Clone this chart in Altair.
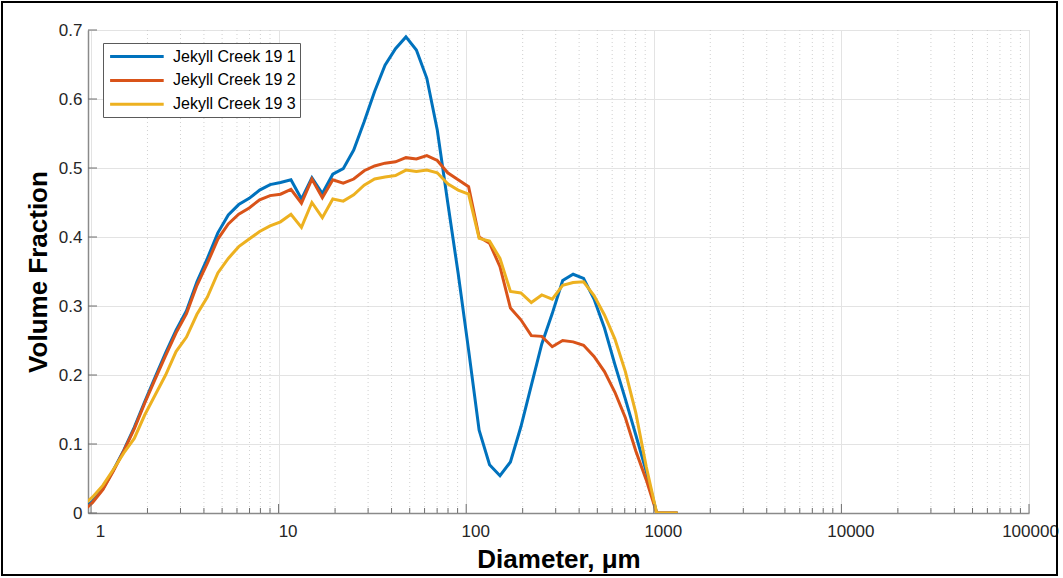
import altair as alt
import pandas as pd

# ---------------- data ----------------
diameter = [0.896, 1.018, 1.157, 1.316, 1.496, 1.701, 1.933, 2.198, 2.499, 2.841, 3.229,
            3.671, 4.173, 4.745, 5.394, 6.132, 6.971, 7.925, 9.010, 10.24, 11.64,
            13.24, 15.05, 17.11, 19.45, 22.11, 25.14, 28.58, 32.49, 36.93, 41.99,
            47.73, 54.26, 61.69, 70.13, 79.72, 90.63, 103.0, 117.2, 133.2, 151.4,
            172.1, 195.7, 222.4, 252.9, 287.5, 326.8, 371.5, 422.4, 480.2, 545.9,
            620.6, 705.5, 802.0, 911.7, 1036, 1178, 1340]

series_names = ["Jekyll Creek 19 1", "Jekyll Creek 19 2", "Jekyll Creek 19 3"]
series_colors = ["#0072BD", "#D95319", "#EDB120"]

vf_1 = [0.003, 0.017, 0.035, 0.062, 0.091, 0.124, 0.161, 0.197, 0.232, 0.265, 0.293,
        0.335, 0.369, 0.406, 0.432, 0.447, 0.456, 0.468, 0.476, 0.479, 0.483,
        0.455, 0.486, 0.463, 0.491, 0.499, 0.526, 0.567, 0.611, 0.649, 0.673,
        0.690, 0.671, 0.630, 0.555, 0.450, 0.347, 0.236, 0.120, 0.070, 0.054,
        0.074, 0.125, 0.185, 0.245, 0.289, 0.337, 0.346, 0.340, 0.310, 0.268,
        0.215, 0.165, 0.113, 0.060, 0.0, 0.0, 0.0]
vf_2 = [0.001, 0.015, 0.034, 0.061, 0.090, 0.122, 0.159, 0.194, 0.228, 0.261, 0.289,
        0.330, 0.362, 0.397, 0.419, 0.433, 0.442, 0.454, 0.460, 0.462, 0.469,
        0.449, 0.484, 0.457, 0.483, 0.478, 0.484, 0.496, 0.503, 0.507, 0.509,
        0.515, 0.513, 0.518, 0.511, 0.493, 0.483, 0.473, 0.400, 0.391, 0.357,
        0.297, 0.280, 0.257, 0.256, 0.241, 0.250, 0.248, 0.243, 0.227, 0.205,
        0.175, 0.138, 0.090, 0.048, 0.0, 0.0, 0.0]
vf_3 = [0.010, 0.023, 0.040, 0.063, 0.087, 0.108, 0.142, 0.171, 0.200, 0.234, 0.255,
        0.288, 0.313, 0.348, 0.369, 0.386, 0.397, 0.408, 0.416, 0.422, 0.433,
        0.414, 0.450, 0.428, 0.455, 0.452, 0.461, 0.475, 0.484, 0.487, 0.489,
        0.497, 0.495, 0.497, 0.493, 0.477, 0.468, 0.462, 0.398, 0.394, 0.369,
        0.321, 0.319, 0.305, 0.316, 0.310, 0.330, 0.334, 0.335, 0.315, 0.287,
        0.252, 0.205, 0.145, 0.067, 0.0, 0.0, 0.0]

x_major = [1, 10, 100, 1000, 10000, 100000]
x_minor = [m * 10 ** d for d in range(0, 5) for m in range(2, 10)]
y_major = [0, 0.1, 0.2, 0.3, 0.4, 0.5, 0.6, 0.7]

rows = []
for name, vals in zip(series_names, [vf_1, vf_2, vf_3]):
    for d, v in zip(diameter, vals):
        rows.append({"Diameter": d, "VolumeFraction": v, "Sample": name})
df = pd.DataFrame(rows)

W, H = 941, 483
FONT = "Liberation Sans"
xscale = alt.Scale(type="log", domain=[0.964, 100000], nice=False)
yscale = alt.Scale(domain=[0, 0.7], nice=False)

x_axis = alt.Axis(values=x_major, format="d", title="Diameter, μm",
                  grid=True, gridColor="#e3e3e3", gridWidth=1,
                  ticks=False, tickSize=0, labelPadding=10,
                  labelOffset={"condition": {"test": "datum.value >= 100000", "value": 1},
                               "value": 9},
                  labelFontSize=17, labelColor="#262626", labelFont=FONT,
                  titleFontSize=26, titleFont=FONT, titleFontWeight="bold",
                  titleColor="#000000", titlePadding=7,
                  domainColor="#8a8a8a", domainWidth=1.5, labelFlush=False)
y_axis = alt.Axis(values=y_major,
                  labelExpr="datum.value == 0 ? '0' : format(datum.value, '.1f')",
                  title="Volume Fraction",
                  grid=True, gridColor="#e3e3e3", gridWidth=1,
                  ticks=False, tickSize=0, labelPadding=6,
                  labelFontSize=17, labelColor="#262626", labelFont=FONT,
                  titleFontSize=26, titleFont=FONT, titleFontWeight="bold",
                  titleColor="#000000", titlePadding=7,
                  domainColor="#8a8a8a", domainWidth=1.5)

minor_df = pd.DataFrame({"Diameter": x_minor})
xmaj_df = pd.DataFrame({"Diameter": x_major})
ymaj_df = pd.DataFrame({"VolumeFraction": y_major})

minor_grid = alt.Chart(minor_df).mark_rule(
    color="#c4c4c4", strokeWidth=0.8, strokeDash=[1, 3]
).encode(
    x=alt.X("Diameter:Q", scale=xscale, axis=x_axis),
    y=alt.value(0), y2=alt.value(H),
)

lines = alt.Chart(df).mark_line(strokeWidth=3, clip=True).encode(
    x=alt.X("Diameter:Q", scale=xscale, axis=x_axis),
    y=alt.Y("VolumeFraction:Q", scale=yscale, axis=y_axis),
    color=alt.Color("Sample:N",
                    scale=alt.Scale(domain=series_names, range=series_colors),
                    legend=alt.Legend(orient="none", legendX=15, legendY=13, title=None,
                                      symbolType="M-0.8,0L5.9,0", symbolSize=256,
                                      symbolStrokeWidth=3, labelFontSize=16,
                                      labelFont=FONT, labelColor="#000000",
                                      labelOffset=47, padding=4, rowPadding=5.9,
                                      strokeColor="#5a5a5a", fillColor="white")),
)

minor_ticks = alt.Chart(minor_df).mark_rule(color="#6e6e6e", strokeWidth=1).encode(
    x=alt.X("Diameter:Q", scale=xscale, axis=x_axis),
    y=alt.value(H), y2=alt.value(H - 5),
)
major_xticks = alt.Chart(xmaj_df).mark_rule(color="#6e6e6e", strokeWidth=1).encode(
    x=alt.X("Diameter:Q", scale=xscale, axis=x_axis),
    y=alt.value(H), y2=alt.value(H - 9),
)
major_yticks = alt.Chart(ymaj_df).mark_rule(color="#6e6e6e", strokeWidth=1).encode(
    y=alt.Y("VolumeFraction:Q", scale=yscale, axis=y_axis),
    x=alt.value(0), x2=alt.value(9),
)

frame = alt.Chart(pd.DataFrame({"a": [0]})).mark_rect(
    fillOpacity=0, stroke="#000000", strokeWidth=2
).encode(
    x=alt.value(-86), x2=alt.value(969), y=alt.value(-28), y2=alt.value(545),
)

chart = alt.layer(minor_grid, lines, minor_ticks, major_xticks, major_yticks, frame).properties(
    width=W, height=H,
    padding={"left": 88, "top": 30, "right": 34, "bottom": 65},
    autosize=alt.AutoSizeParams(type="none"),
).configure_view(stroke="#e3e3e3", strokeWidth=1).configure(background="white")

chart.save("out.html", embed_options={"renderer": "svg", "actions": False})
